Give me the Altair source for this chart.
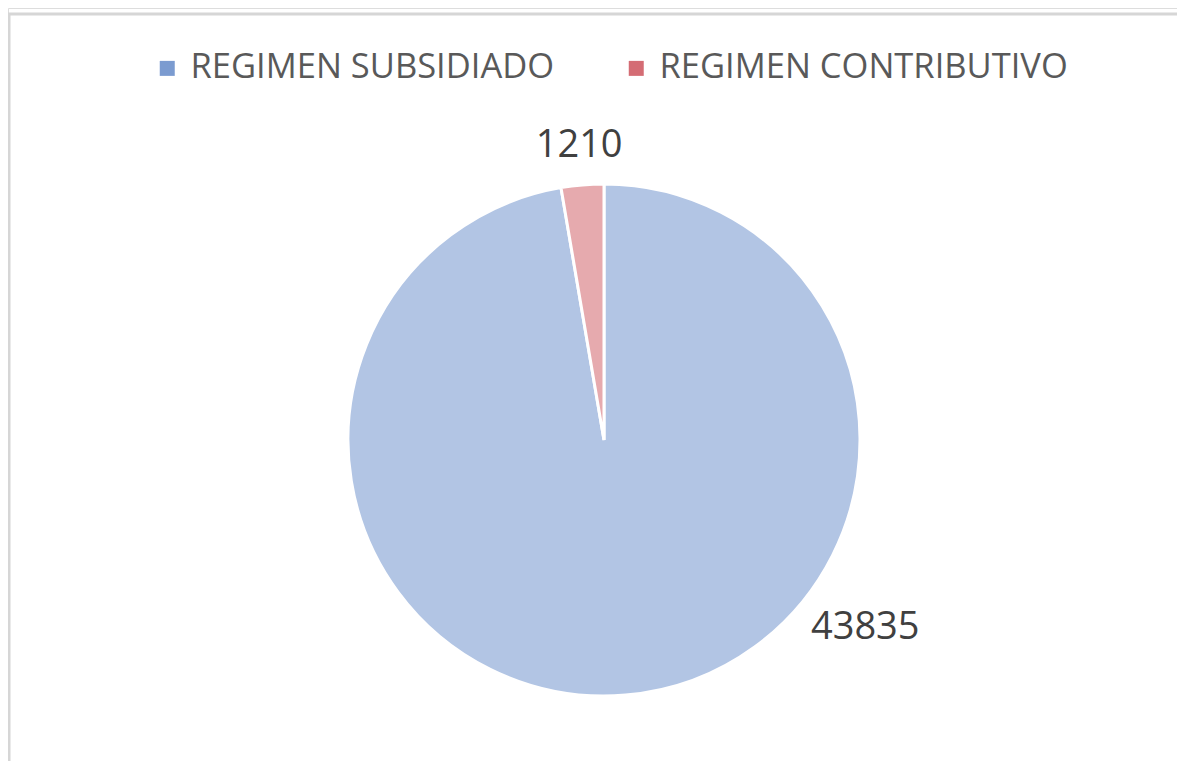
import altair as alt
import pandas as pd

categorias = ["REGIMEN SUBSIDIADO", "REGIMEN CONTRIBUTIVO"]
valores = [43835, 1210]
orden = [1, 2]
colores_leyenda = ["#7b9bd0", "#d46c74"]

df = pd.DataFrame({"regimen": categorias, "valor": valores, "orden": orden})

W, H = 1169, 753
CX, CY = 596, 432

color = alt.Color(
    "regimen:N",
    scale=alt.Scale(domain=categorias, range=colores_leyenda),
    legend=alt.Legend(
        title=None,
        orient="none",
        legendX=142,
        legendY=43,
        direction="horizontal",
        symbolType="square",
        symbolSize=225,
        symbolOpacity=1,
        symbolStrokeWidth=0,
        labelFontSize=34.5,
        labelFont="Open Sans",
        labelColor="#595959",
        labelOffset=6,
        labelLimit=0,
        columnPadding=64,
        padding=0,
    ),
)

base = alt.Chart(df)

arc = base.mark_arc(radius=256, stroke="white", strokeWidth=3, fillOpacity=0.58).encode(
    theta=alt.Theta("valor:Q", stack=True),
    color=color,
    order=alt.Order("orden:Q"),
    x=alt.value(CX),
    y=alt.value(CY),
)

lab_small = base.mark_text(
    radius=295, font="Open Sans", fontSize=38, color="#404040",
    align="center", baseline="middle",
).encode(
    theta=alt.Theta("valor:Q", stack=True),
    order=alt.Order("orden:Q"),
    text=alt.Text("valor:Q", format="d"),
    opacity=alt.condition(alt.datum.regimen == "REGIMEN CONTRIBUTIVO", alt.value(1), alt.value(0)),
    x=alt.value(CX),
    y=alt.value(CY),
)

lab_big = base.mark_text(
    radius=322, thetaOffset=-0.862, font="Open Sans", fontSize=38, color="#404040",
    align="center", baseline="middle",
).encode(
    theta=alt.Theta("valor:Q", stack=True),
    order=alt.Order("orden:Q"),
    text=alt.Text("valor:Q", format="d"),
    opacity=alt.condition(alt.datum.regimen == "REGIMEN SUBSIDIADO", alt.value(1), alt.value(0)),
    x=alt.value(CX),
    y=alt.value(CY),
)

top_rule = alt.Chart(pd.DataFrame({"k": [0]})).mark_rule(color="#d6d6d6", strokeWidth=3).encode(
    x=alt.value(-1), x2=alt.value(W), y=alt.value(6)
)
left_rule = alt.Chart(pd.DataFrame({"k": [0]})).mark_rule(color="#d6d6d6", strokeWidth=3).encode(
    x=alt.value(1), y=alt.value(6), y2=alt.value(H)
)

chart = alt.layer(top_rule, left_rule, arc, lab_small, lab_big).properties(
    width=W, height=H, padding=0, autosize=alt.AutoSizeParams(type="none")
).configure_view(stroke=None).configure(background="white")

chart.save("out.html", embed_options={"renderer": "svg", "actions": False})
